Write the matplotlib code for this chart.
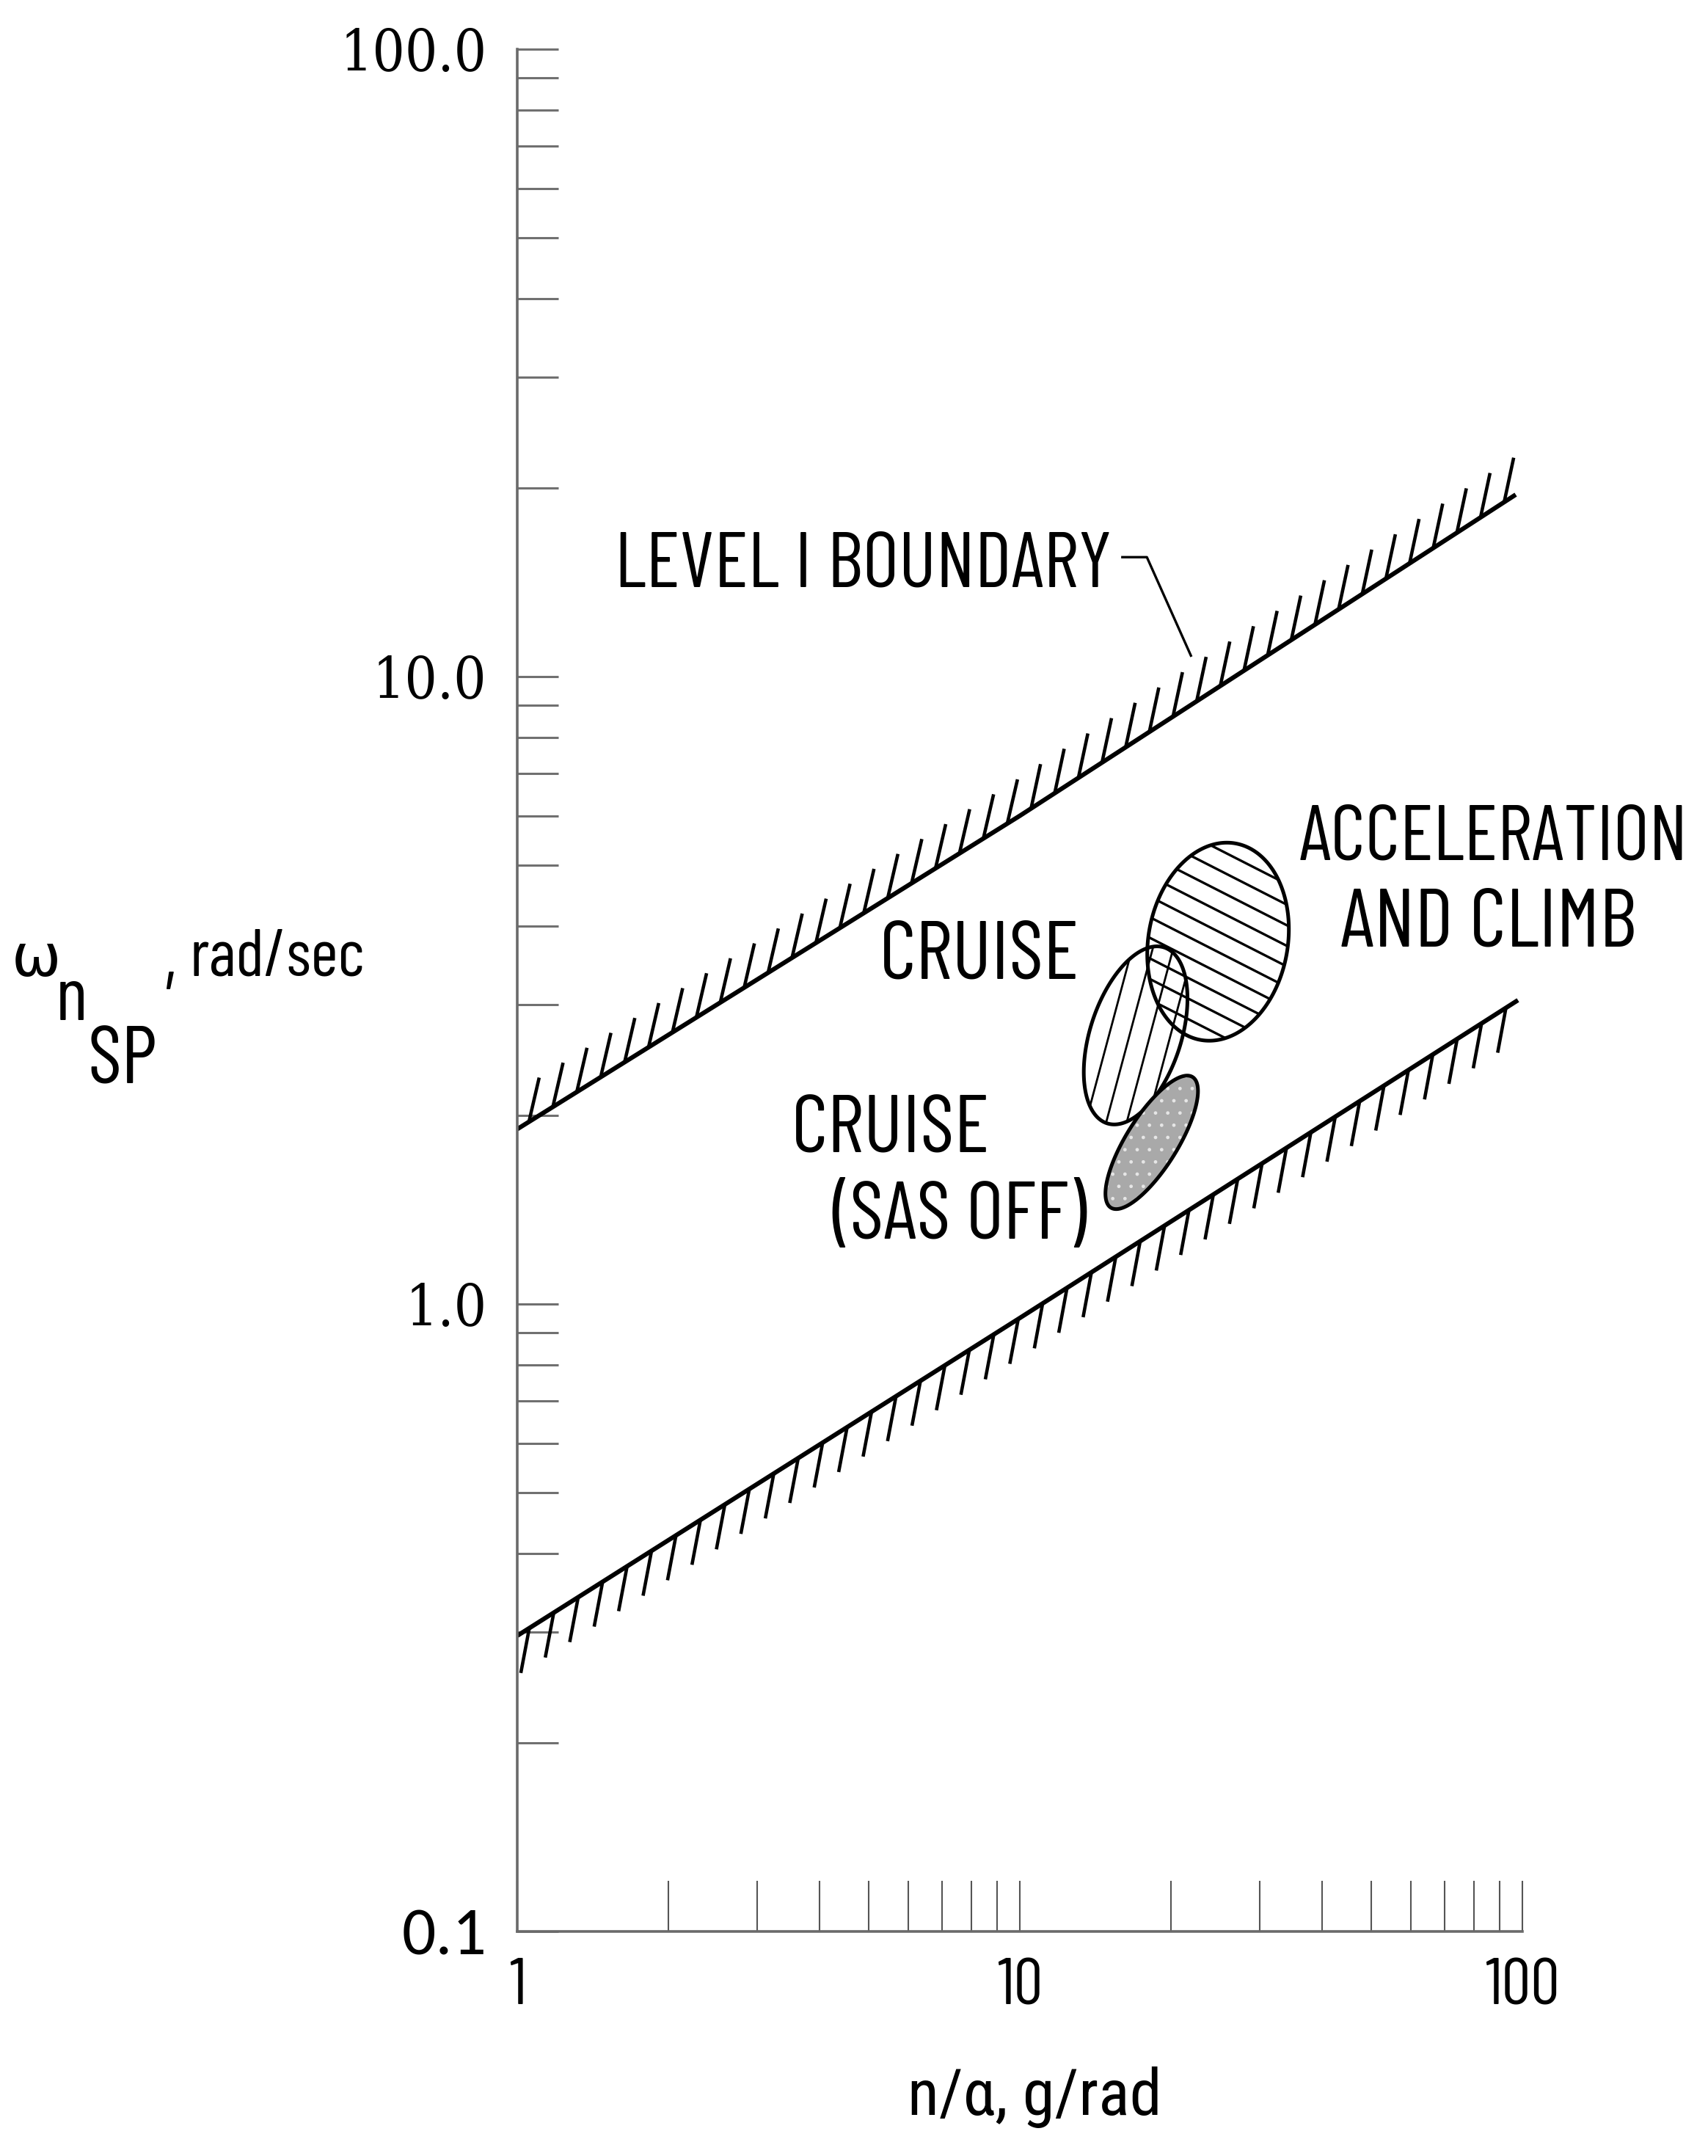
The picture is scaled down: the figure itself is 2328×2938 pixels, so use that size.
import numpy as np
import matplotlib
matplotlib.use("Agg")
import matplotlib.pyplot as plt
from matplotlib import patheffects as pe
from matplotlib.patches import Polygon
from matplotlib.ticker import NullFormatter, LogLocator, FixedLocator

# ---------------- data ----------------
x_ticks = [1, 10, 100]
x_ticklabels = ["1", "10", "100"]
y_ticks = [0.1, 1, 10, 100]
y_ticklabels = ["0.1", "1.0", "10.0", "100.0"]

# Level 1 boundaries (n/alpha, omega_nSP)
upper_x = [1, 10, 97]
upper_y = [1.9, 6.0, 19.5]
lower_x = [1, 10, 98]
lower_y = [0.296, 0.95, 3.05]

# leader line from the "LEVEL I BOUNDARY" label to the upper boundary
leader_x = [16.0, 17.9, 21.9]
leader_y = [15.5, 15.5, 10.8]

# flight-condition regions: centres in data units
region_names = ["ACCELERATION AND CLIMB", "CRUISE", "CRUISE (SAS OFF)"]
region_cx = [24.8, 17.0, 18.3]
region_cy = [3.78, 2.68, 1.81]

# ---------------- sizes / styles (pixels, degrees) ----------------
region_semi_major_px = [136, 126, 105]
region_semi_minor_px = [95, 62, 35]
region_axis_angle = [80, 72, 58]

W, H = 2328, 2938
DPI = 100
SANS = ["Barlow Condensed", "DejaVu Sans"]
SERIF = ["DejaVu Serif"]

fig = plt.figure(figsize=(W / DPI, H / DPI), dpi=DPI)
ax_left, ax_right, ax_top, ax_bottom = 705, 2075, 67, 2632
ax = fig.add_axes([ax_left / W, 1 - ax_bottom / H, (ax_right - ax_left) / W, (ax_bottom - ax_top) / H])
ax.set_xscale("log")
ax.set_yscale("log")
ax.set_xlim(1, 100)
ax.set_ylim(0.1, 100)

for s in ("top", "right"):
    ax.spines[s].set_visible(False)
for s in ("left", "bottom"):
    ax.spines[s].set_color("#6a6a6a")
    ax.spines[s].set_linewidth(2.6)

ax.xaxis.set_major_locator(FixedLocator(x_ticks))
ax.yaxis.set_major_locator(FixedLocator(y_ticks))
ax.xaxis.set_minor_locator(LogLocator(base=10, subs=range(2, 10)))
ax.yaxis.set_minor_locator(LogLocator(base=10, subs=range(2, 10)))
ax.xaxis.set_minor_formatter(NullFormatter())
ax.yaxis.set_minor_formatter(NullFormatter())
ax.tick_params(axis="x", which="both", direction="in", length=50, width=1.5, color="#555555", pad=26)
ax.tick_params(axis="y", which="both", direction="in", length=40, width=2.2, color="#707070", pad=30)

ax.set_xticks(x_ticks, labels=x_ticklabels)
ax.set_yticks(y_ticks, labels=y_ticklabels)
for t in ax.get_xticklabels():
    t.set_family(SANS)
    t.set_fontsize(64)
    t.set_color("black")
for t in ax.get_yticklabels():
    if t.get_text() == "0.1":
        t.set_family(["Carlito", "Open Sans", "DejaVu Sans"])
        t.set_fontsize(66)
    else:
        t.set_family(SERIF)
        t.set_fontstretch("condensed")
        t.set_fontsize(56)
    t.set_color("black")

# ---------------- boundaries with hatch ticks ----------------
ax.plot(upper_x, upper_y, color="black", lw=4.4, solid_capstyle="butt",
        path_effects=[pe.TickedStroke(spacing=27, angle=45, length=1.65, linewidth=3.3), pe.Normal()])
ax.plot(lower_x, lower_y, color="black", lw=4.4, solid_capstyle="butt",
        path_effects=[pe.TickedStroke(spacing=28, angle=-133, length=1.6, linewidth=3.3), pe.Normal()])
ax.plot(leader_x, leader_y, color="black", lw=2.4)

# ---------------- regions ----------------
def ellipse_data(cx, cy, a, b, ang_deg, n=240):
    c = ax.transData.transform((cx, cy))
    th = np.radians(ang_deg)
    u = np.array([np.cos(th), np.sin(th)])
    v = np.array([-np.sin(th), np.cos(th)])
    t = np.linspace(0, 2 * np.pi, n)
    pts = c[None, :] + np.outer(a * np.cos(t), u) + np.outer(b * np.sin(t), v)
    return ax.transData.inverted().transform(pts)


def hatch(cx, cy, reach, ang_deg, spacing, clip, lw, phase=0.0):
    c = ax.transData.transform((cx, cy))
    th = np.radians(ang_deg)
    d = np.array([np.cos(th), np.sin(th)])
    nrm = np.array([-np.sin(th), np.cos(th)])
    k = int(reach / spacing) + 1
    for i in range(-k, k + 1):
        off = (i + phase) * spacing
        p0 = c + off * nrm - reach * d
        p1 = c + off * nrm + reach * d
        dp = ax.transData.inverted().transform(np.vstack([p0, p1]))
        ln, = ax.plot(dp[:, 0], dp[:, 1], color="black", lw=lw, solid_capstyle="butt", zorder=2)
        ln.set_clip_path(clip)

# cruise (steep hatching)
cr = ellipse_data(region_cx[1], region_cy[1], region_semi_major_px[1], region_semi_minor_px[1], region_axis_angle[1])
cr_patch = Polygon(cr, closed=True, facecolor="none", edgecolor="black", lw=3.6, zorder=3)
ax.add_patch(cr_patch)
hatch(region_cx[1], region_cy[1], 160, 75, 27, cr_patch, 2.0, phase=0.3)

# acceleration and climb (shallow hatching)
ac = ellipse_data(region_cx[0], region_cy[0], region_semi_major_px[0], region_semi_minor_px[0], region_axis_angle[0])
ac_patch = Polygon(ac, closed=True, facecolor="none", edgecolor="black", lw=3.6, zorder=3)
ax.add_patch(ac_patch)
hatch(region_cx[0], region_cy[0], 170, -27, 25, ac_patch, 2.4, phase=0.5)

# cruise SAS off (grey stipple)
so = ellipse_data(region_cx[2], region_cy[2], region_semi_major_px[2], region_semi_minor_px[2], region_axis_angle[2])
ax.add_patch(Polygon(so, closed=True, facecolor="#a9a9a9", edgecolor="#e6e6e6", lw=0, hatch=".", zorder=4))
ax.add_patch(Polygon(so, closed=True, facecolor="none", edgecolor="black", lw=3.6, zorder=5))

# ---------------- texts ----------------
def px(x, y):
    return x / W, 1 - y / H

def put(s, x, y, width, fs=60, ha="left", va="baseline", family=SANS, **kw):
    t = fig.text(*px(x, y), s, ha=ha, va=va, fontsize=fs, family=family, color="black", **kw)
    return (t, width)

fit = [
    put("LEVEL I BOUNDARY", 838, 800, 677),
    put("CRUISE", 1199, 1334, 272),
    put("ACCELERATION", 1771, 1171, 530),
    put("AND CLIMB", 1827, 1290, 403),
    put("CRUISE", 1079, 1570, 270),
    put("(SAS OFF)", 1134, 1688, 347),
    put("n/α, g/rad", 1237, 2882, 347, family=["Roboto Condensed", "DejaVu Sans"]),
    put("rad/sec", 259, 1330, 239),
]
fig.canvas.draw()
r = fig.canvas.get_renderer()
for t, w in fit:
    cur = t.get_window_extent(r).width
    t.set_fontsize(t.get_fontsize() * w / cur)

# y-axis label pieces: omega_{n_SP}, rad/sec
fig.text(*px(16, 1330), "ω", ha="left", va="baseline", fontsize=58, family=["DejaVu Sans"], color="black")
fig.text(*px(76, 1390), "n", ha="left", va="baseline", fontsize=74, family=SANS, color="black")
fig.text(*px(119, 1477), "SP", ha="left", va="baseline", fontsize=80, family=SANS, color="black")
fig.text(*px(222, 1340), ",", ha="left", va="baseline", fontsize=74, family=SANS, color="black")

fig.savefig("out.png", dpi=DPI)
